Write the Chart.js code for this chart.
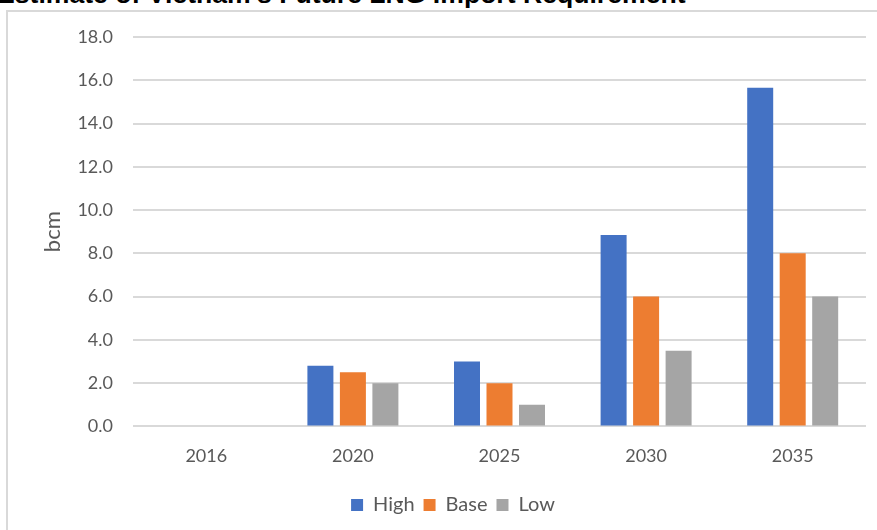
<!DOCTYPE html>
<html>
<head>
<meta charset="utf-8">
<script src="https://cdn.jsdelivr.net/npm/chart.js@4/dist/chart.umd.min.js"></script>
<style>
  html, body { margin: 0; padding: 0; background: #ffffff; overflow: hidden; }
  #wrap { position: relative; width: 877px; height: 530px; overflow: hidden; background: #fff; }
  #frame { position: absolute; left: 6px; top: 10px; width: 900px; height: 600px; border: 2px solid #d9d9d9; box-sizing: border-box; }
  #title { position: absolute; left: -3px; top: -21px; line-height: 30px; font-family: "Liberation Sans", Arial, sans-serif; font-weight: bold; font-size: 26.6px; color: #000; white-space: nowrap; }
  canvas { position: absolute; left: 0; top: 0; }
</style>
</head>
<body>
<div id="wrap">
  <div id="frame"></div>
  <div id="title">Estimate of Vietnam's Future LNG Import Requirement</div>
  <canvas id="c" width="877" height="530"></canvas>
</div>
<script>
const categories = ["2016", "2020", "2025", "2030", "2035"];
const highValues = [0, 2.8, 3.0, 8.85, 15.65];
const baseValues = [0, 2.5, 2.0, 6.0, 8.0];
const lowValues  = [0, 2.0, 1.0, 3.5, 6.0];
const seriesNames = ["High", "Base", "Low"];
const yAxisTitle = "bcm";

const FONT = "Lato, 'Open Sans', sans-serif";
const TEXT = "#595959";

new Chart(document.getElementById("c"), {
  type: "bar",
  data: {
    labels: categories,
    datasets: [
      { label: seriesNames[0], data: highValues, backgroundColor: "#4472C4" },
      { label: seriesNames[1], data: baseValues, backgroundColor: "#ED7D31" },
      { label: seriesNames[2], data: lowValues,  backgroundColor: "#A5A5A5" }
    ]
  },
  options: {
    responsive: false,
    animation: false,
    devicePixelRatio: 1,
    layout: { padding: { left: 40, right: 11, top: 37, bottom: 5 } },
    datasets: { bar: { categoryPercentage: 0.665, barPercentage: 0.8 } },
    plugins: {
      legend: {
        position: "bottom",
        labels: { font: { family: FONT, size: 20 }, color: TEXT, boxWidth: 12, boxHeight: 12, padding: 9 }
      },
      tooltip: { enabled: false }
    },
    scales: {
      x: {
        grid: { display: false, drawTicks: false },
        border: { display: false },
        ticks: { font: { family: FONT, size: 18 }, color: TEXT, padding: 19 }
      },
      y: {
        min: 0, max: 18,
        afterFit: (s) => { s.width = 133 - 40; },
        ticks: { stepSize: 2, font: { family: FONT, size: 18 }, color: TEXT, padding: 20,
                 callback: (v) => Number(v).toFixed(1) },
        grid: { color: "#d9d9d9", lineWidth: 2, drawTicks: false },
        border: { display: false },
        title: { display: true, text: yAxisTitle, font: { family: FONT, size: 22 }, color: TEXT, padding: 0 }
      }
    }
  }
});
</script>
</body>
</html>
